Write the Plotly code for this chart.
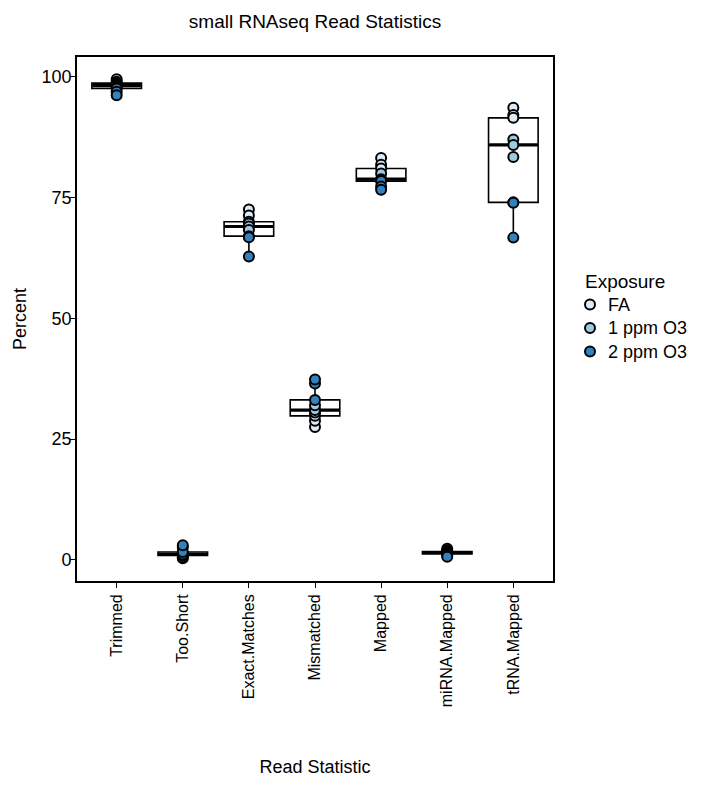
import numpy as np
import plotly.graph_objects as go

categories = ["Trimmed", "Too.Short", "Exact.Matches", "Mismatched",
              "Mapped", "miRNA.Mapped", "tRNA.Mapped"]
exposures = ["FA", "1 ppm O3", "2 ppm O3"]
exposure_colors = ["#deebf7", "#9ecae1", "#3182bd"]

# percent values per read statistic, three samples per exposure group
fa_values = {
    "Trimmed": [99.5, 99.0, 98.7],
    "Too.Short": [0.3, 0.5, 0.9],
    "Exact.Matches": [72.5, 71.3, 70.0],
    "Mismatched": [27.5, 28.8, 29.8],
    "Mapped": [83.2, 81.8, 81.0],
    "miRNA.Mapped": [2.3, 1.9, 1.7],
    "tRNA.Mapped": [93.6, 92.1, 91.5],
}
o3_1ppm_values = {
    "Trimmed": [98.4, 98.2, 97.9],
    "Too.Short": [1.0, 1.2, 2.6],
    "Exact.Matches": [69.6, 69.0, 68.3],
    "Mismatched": [30.5, 31.0, 32.0],
    "Mapped": [80.0, 78.8, 78.6],
    "miRNA.Mapped": [1.6, 1.5, 1.3],
    "tRNA.Mapped": [87.0, 85.9, 83.4],
}
o3_2ppm_values = {
    "Trimmed": [97.6, 96.9, 96.2],
    "Too.Short": [1.1, 1.6, 3.0],
    "Exact.Matches": [67.0, 66.8, 62.8],
    "Mismatched": [33.1, 36.5, 37.3],
    "Mapped": [78.4, 77.3, 76.6],
    "miRNA.Mapped": [1.2, 0.9, 0.6],
    "tRNA.Mapped": [74.0, 73.9, 66.7],
}
group_values = [fa_values, o3_1ppm_values, o3_2ppm_values]

FONT = "Liberation Sans, Arial, sans-serif"
BLACK = "black"

# plot area in pixels (used to place the hand-drawn legend)
PLOT_L, PLOT_R, PLOT_T, PLOT_B = 77, 553, 57, 581
PW, PH = PLOT_R - PLOT_L, PLOT_B - PLOT_T

fig = go.Figure()

# boxes over all samples of each statistic
box_x, box_y = [], []
for cat in categories:
    for g in group_values:
        box_x += [cat] * len(g[cat])
        box_y += g[cat]

fig.add_trace(go.Box(
    x=box_x, y=box_y,
    width=0.75,
    fillcolor="white",
    line=dict(color=BLACK, width=1.6),
    whiskerwidth=0,
    boxpoints="outliers",
    quartilemethod="inclusive",
    marker=dict(opacity=0),
    showlegend=False,
    hoverinfo="skip",
))

# thicker median bars, as wide as the boxes
medians = [float(np.median([v for g in group_values for v in g[c]])) for c in categories]
fig.add_trace(go.Scatter(
    x=categories, y=medians, mode="markers",
    marker=dict(symbol="line-ew", size=34.5, line=dict(color=BLACK, width=3.2)),
    showlegend=False, hoverinfo="skip",
))

# sample points, one trace per exposure
for name, color, g in zip(exposures, exposure_colors, group_values):
    xs, ys = [], []
    for cat in categories:
        xs += [cat] * len(g[cat])
        ys += g[cat]
    fig.add_trace(go.Scatter(
        x=xs, y=ys, mode="markers", name=name, showlegend=False,
        marker=dict(size=10, color=color, line=dict(color=BLACK, width=2)),
    ))

# legend: title, keys and a multi-line label block on the right margin
LEG_FONT = 18
legend_x = 583
legend_mid_y = 328
row_gap = LEG_FONT * 1.3


def px_to_paper(px, py):
    return (px - PLOT_L) / PW, (PLOT_B - py) / PH


shapes = []
tx, ty = px_to_paper(legend_x, legend_mid_y - row_gap - 23)
annotations = [dict(
    text="Exposure", xref="paper", yref="paper", x=tx, y=ty,
    xanchor="left", yanchor="middle", showarrow=False,
    font=dict(family=FONT, size=19, color=BLACK),
)]
for i, color in enumerate(exposure_colors):
    kx, ky = px_to_paper(legend_x + 7, legend_mid_y + (i - 1) * row_gap)
    shapes.append(dict(
        type="circle", xref="paper", yref="paper",
        xsizemode="pixel", ysizemode="pixel",
        xanchor=kx, yanchor=ky, x0=-5, x1=5, y0=-5, y1=5,
        fillcolor=color, line=dict(color=BLACK, width=2),
    ))
lx, ly = px_to_paper(legend_x + 23, legend_mid_y)
annotations.append(dict(
    text="<br>".join(exposures), xref="paper", yref="paper", x=lx, y=ly,
    xanchor="left", yanchor="middle", align="left", showarrow=False,
    font=dict(family=FONT, size=LEG_FONT, color=BLACK),
))

axis_common = dict(
    showline=True, mirror=True, linecolor=BLACK, linewidth=1.8,
    ticks="outside", ticklen=5, tickcolor=BLACK, tickwidth=1.2,
    showgrid=False, zeroline=False,
)

fig.update_layout(
    width=706, height=804,
    margin=dict(l=PLOT_L, r=706 - PLOT_R, t=PLOT_T, b=804 - PLOT_B),
    paper_bgcolor="white", plot_bgcolor="white",
    showlegend=False,
    title=dict(text="small RNAseq Read Statistics", x=(PLOT_L + PLOT_R) / 2 / 706,
               xanchor="center", y=1 - 21 / 804, yanchor="middle",
               font=dict(family=FONT, size=19, color=BLACK)),
    xaxis=dict(axis_common, type="category", categoryorder="array",
               categoryarray=categories, range=[-0.6, 6.6], tickangle=-90,
               tickfont=dict(family=FONT, size=16, color=BLACK),
               title=dict(text="Read Statistic", standoff=54,
                          font=dict(family=FONT, size=18, color=BLACK))),
    yaxis=dict(axis_common, range=[-4.4, 104.1],
               tickvals=[0, 25, 50, 75, 100],
               tickfont=dict(family=FONT, size=18, color=BLACK),
               ticklabelstandoff=-5,
               title=dict(text="Percent", standoff=10,
                          font=dict(family=FONT, size=18, color=BLACK))),
    shapes=shapes,
    annotations=annotations,
)

fig.write_html("out.html")
